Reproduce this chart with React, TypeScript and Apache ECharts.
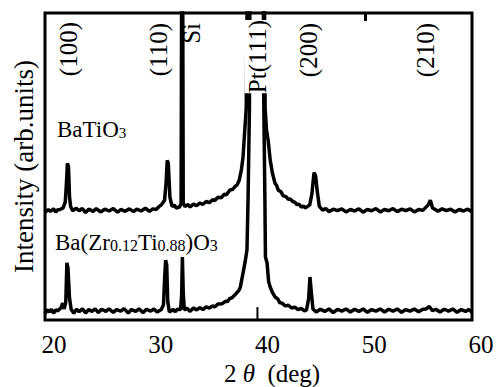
import React, { useEffect, useRef } from "react";
import * as echarts from "echarts";

// 2θ (deg) vs intensity (arb. units)
const batio3Points: [number, number][] = [
  [20.0, 35.0], [20.3, 36.0], [20.5, 35.4], [20.8, 36.2], [21.0, 35.2], [21.2, 35.9],
  [21.4, 36.0], [21.7, 36.5], [21.9, 38.5],
  [22.0, 44.0], [22.1, 51.0], [22.2, 50.0], [22.3, 40.0], [22.4, 37.0], [22.6, 35.5],
  [22.9, 36.4], [23.2, 35.6], [23.5, 36.3], [23.8, 35.0], [24.1, 36.1], [24.5, 35.4],
  [24.8, 36.3], [25.2, 35.2], [25.6, 36.1], [26.0, 35.5], [26.4, 36.3], [26.8, 35.1],
  [27.1, 36.0], [27.5, 35.4], [27.9, 36.2], [28.3, 35.3], [28.6, 36.1], [29.0, 35.5],
  [29.4, 36.4], [29.8, 35.4], [30.1, 36.2], [30.4, 36.0], [30.7, 37.0], [30.9, 37.5],
  [31.2, 39.0], [31.35, 45.0], [31.45, 52.0], [31.55, 51.0], [31.7, 40.0], [31.9, 37.0],
  [32.1, 37.4], [32.3, 36.5], [32.6, 36.8], [32.75, 38.0], [32.8, 110], [32.9, 110], [32.95, 38.0],
  [33.1, 37.0], [33.4, 37.6], [33.6, 36.8], [33.9, 37.8], [34.2, 37.2], [34.5, 38.1],
  [34.8, 37.7], [35.1, 38.6], [35.4, 38.2], [35.7, 39.2], [35.9, 38.9],
  [36.2, 40.0], [36.5, 39.8], [36.8, 41.0], [37.0, 40.8], [37.3, 42.3], [37.6, 42.6],
  [37.8, 43.5], [38.0, 44.0], [38.2, 45.6], [38.4, 49.0],
  [38.55, 53.0], [38.7, 61.0], [38.85, 69.0], [38.95, 110], [40.55, 110], [40.62, 69.0],
  [40.75, 62.0], [40.9, 58.6], [41.1, 52.0], [41.3, 47.9], [41.55, 44.5], [41.7, 43.8],
  [41.85, 42.3], [42.1, 41.8], [42.3, 40.5], [42.6, 40.1], [42.8, 39.3], [43.0, 39.4],
  [43.2, 38.6], [43.4, 38.4], [43.6, 37.6], [43.8, 37.7], [44.0, 36.8], [44.2, 37.1],
  [44.4, 36.5], [44.6, 37.0],
  [44.8, 37.5], [45.0, 41.0], [45.2, 48.0], [45.35, 47.0], [45.5, 42.0], [45.7, 37.0],
  [46.0, 35.8], [46.3, 36.3], [46.6, 35.3], [47.0, 36.1], [47.4, 35.6], [47.8, 36.2],
  [48.2, 35.2], [48.6, 36.0], [49.0, 35.5], [49.4, 36.2], [49.8, 35.1], [50.2, 36.0],
  [50.6, 35.6], [51.0, 36.3], [51.4, 35.2], [51.8, 36.0], [52.2, 35.6], [52.6, 36.3],
  [53.0, 35.3], [53.4, 36.1], [53.8, 35.6], [54.2, 36.2], [54.6, 35.2], [55.0, 36.0],
  [55.4, 35.7], [55.9, 37.5], [56.1, 39.0], [56.3, 36.5], [56.6, 35.9], [56.8, 35.4],
  [57.2, 36.2], [57.6, 35.6], [58.0, 36.1], [58.4, 35.2], [58.8, 36.0], [59.2, 35.5],
  [59.6, 36.1], [60.0, 35.3],
];

const bztPoints: [number, number][] = [
  [20.0, 2.0], [20.2, 3.4], [20.4, 2.6], [20.6, 3.5], [20.8, 2.2], [21.0, 3.3],
  [21.2, 3.0], [21.5, 4.0], [21.65, 5.5],
  [21.8, 3.6], [21.95, 6.0], [22.05, 18.6], [22.15, 17.0], [22.3, 7.0], [22.45, 3.5],
  [22.7, 2.2], [22.95, 3.5], [23.2, 2.7], [23.5, 3.6], [23.8, 2.3], [24.1, 3.4],
  [24.4, 2.8], [24.7, 3.6], [25.0, 2.4], [25.3, 3.5], [25.7, 2.8], [26.0, 3.6],
  [26.4, 2.5], [26.7, 3.4], [27.1, 2.9], [27.4, 3.7], [27.8, 2.3], [28.1, 3.4],
  [28.5, 2.8], [28.8, 3.6], [29.2, 2.4], [29.5, 3.5], [29.9, 2.9], [30.2, 3.6],
  [30.5, 2.6], [30.9, 3.4], [31.1, 5.0], [31.2, 13.0], [31.3, 19.5], [31.4, 18.0],
  [31.5, 6.0], [31.65, 2.6], [32.0, 3.4], [32.2, 2.7], [32.4, 3.5], [32.7, 3.4], [32.8, 8.0],
  [32.87, 20.5], [32.95, 9.0], [33.05, 3.3], [33.3, 3.8], [33.6, 2.8], [33.9, 3.9],
  [34.2, 3.3], [34.5, 4.0], [34.8, 3.4], [35.1, 4.3], [35.4, 3.9], [35.7, 4.6],
  [35.9, 4.2], [36.2, 5.2], [36.6, 5.3], [36.9, 6.1], [37.1, 6.0], [37.3, 7.0],
  [37.5, 7.2], [37.8, 8.2], [38.0, 9.0], [38.15, 9.6],
  [38.3, 10.7], [38.55, 15.3], [38.75, 19.0], [38.92, 22.8], [39.02, 39.0], [39.15, 69.0],
  [39.2, 110], [40.45, 110], [40.5, 69.0], [40.6, 39.0], [40.65, 20.5], [40.8, 18.6],
  [40.95, 12.5], [41.1, 10.7], [41.3, 9.0], [41.55, 7.5], [41.8, 6.9], [42.0, 5.6],
  [42.2, 5.5], [42.5, 4.6], [42.8, 4.8], [43.1, 3.9], [43.4, 4.2], [43.7, 3.4],
  [44.0, 3.8], [44.3, 3.0], [44.5, 3.3], [44.7, 7.0], [44.82, 14.0], [44.95, 9.0], [45.1, 3.6],
  [45.4, 2.6], [45.8, 3.5], [46.2, 2.8], [46.6, 3.6], [47.0, 2.4], [47.4, 3.5],
  [47.8, 2.9], [48.2, 3.6], [48.6, 2.6], [49.0, 3.5], [49.4, 2.8], [49.8, 3.6],
  [50.2, 2.5], [50.6, 3.4], [51.0, 2.9], [51.4, 3.6], [51.8, 2.6], [52.2, 3.5],
  [52.6, 2.9], [53.0, 3.6], [53.4, 2.5], [53.8, 3.4], [54.2, 2.9], [54.6, 3.6],
  [55.0, 2.7], [55.4, 3.5], [55.7, 3.6], [56.0, 4.4], [56.3, 3.0], [56.6, 3.5],
  [57.0, 2.6], [57.4, 3.5], [57.8, 2.9], [58.2, 3.6], [58.6, 2.5], [59.0, 3.4],
  [59.4, 2.8], [59.7, 3.4], [60.0, 2.6],
];

const ptReferenceMark: [number, number][] = [[39.9, 0], [39.9, 4.2]];

const xTickValues = [20, 30, 40, 50, 60];
const topTickValues = [50];

const peakLabels = [
  { text: "(100)", px: 68, py: 22 },
  { text: "(110)", px: 158, py: 23 },
  { text: "Si", px: 191, py: 23 },
  { text: "Pt(111)", px: 257, py: 20 },
  { text: "(200)", px: 308, py: 23 },
  { text: "(210)", px: 425, py: 23 },
];

const FONT = "'Liberation Serif', 'Times New Roman', serif";

export default function App() {
  const ref = useRef<HTMLDivElement>(null);

  useEffect(() => {
    if (!ref.current) return;
    const chart = echarts.init(ref.current, undefined, { renderer: "svg" });

    const lineStyle = { color: "#000", width: 3.5 };

    const graphics: any[] = peakLabels.map((p) => ({
      type: "text",
      x: p.px,
      y: p.py,
      rotation: Math.PI / 2,
      z: 100,
      style: {
        text: p.text,
        fontSize: 25,
        fontFamily: FONT,
        fill: "#000",
        align: "right",
        textAlign: "right",
        verticalAlign: "middle",
        textVerticalAlign: "middle",
        backgroundColor: p.text === "Pt(111)" ? "#fff" : undefined,
      },
    }));

    graphics.push({
      type: "text",
      x: 57,
      y: 129,
      z: 100,
      style: {
        text: "{n|BaTiO}{s|3}",
        fontFamily: FONT,
        fill: "#000",
        align: "left",
        textAlign: "left",
        verticalAlign: "middle",
        textVerticalAlign: "middle",
        rich: {
          n: { fontSize: 23, fontFamily: FONT, fill: "#000", verticalAlign: "bottom" },
          s: { fontSize: 15, fontFamily: FONT, fill: "#000", verticalAlign: "bottom" },
        },
      },
    });

    graphics.push({
      type: "text",
      x: 55,
      y: 242,
      z: 100,
      style: {
        text: "{n|Ba(Zr}{s|0.12}{n|Ti}{s|0.88}{n|)O}{s|3}",
        fontFamily: FONT,
        fill: "#000",
        align: "left",
        textAlign: "left",
        verticalAlign: "middle",
        textVerticalAlign: "middle",
        rich: {
          n: { fontSize: 23, fontFamily: FONT, fill: "#000", verticalAlign: "bottom" },
          s: { fontSize: 16, fontFamily: FONT, fill: "#000", verticalAlign: "bottom" },
        },
      },
    });

    graphics.push({
      type: "text",
      x: 272,
      y: 373,
      z: 100,
      style: {
        text: "{n|2 }{i|θ}{n|  (deg)}",
        fontFamily: FONT,
        fill: "#000",
        align: "center",
        textAlign: "center",
        verticalAlign: "middle",
        textVerticalAlign: "middle",
        rich: {
          n: { fontSize: 25, fontFamily: FONT, fill: "#000" },
          i: { fontSize: 25, fontFamily: FONT, fontStyle: "italic", fill: "#000" },
        },
      },
    });

    chart.setOption({
      animation: false,
      backgroundColor: "#fff",
      grid: {
        left: 45,
        right: 25,
        top: 13,
        bottom: 67,
        show: true,
        borderColor: "#000",
        borderWidth: 3,
        backgroundColor: "transparent",
      },
      xAxis: [
        {
          type: "value",
          min: 20,
          max: 60,
          interval: 10,
          axisLine: { show: false },
          axisTick: { show: false },
          splitLine: { show: false },
          axisLabel: {
            show: true,
            customValues: xTickValues,
            color: "#000",
            fontSize: 25,
            fontFamily: FONT,
            margin: 12,
            padding: [0, 0, 0, 18],
          },
        },
        {
          type: "value",
          position: "top",
          min: 20,
          max: 60,
          interval: 10,
          axisLine: { show: false },
          axisLabel: { show: false },
          splitLine: { show: false },
          axisTick: {
            show: true,
            inside: true,
            length: 8,
            customValues: topTickValues,
            lineStyle: { color: "#000", width: 3 },
          },
        },
      ],
      yAxis: {
        type: "value",
        min: 0,
        max: 100,
        axisLine: { show: false },
        axisTick: { show: false },
        axisLabel: { show: false },
        splitLine: { show: false },
        name: "Intensity (arb.units)",
        nameLocation: "middle",
        nameGap: 8,
        nameTextStyle: { color: "#000", fontSize: 27, fontFamily: FONT },
      },
      series: [
        {
          name: "BaTiO3",
          type: "line",
          data: batio3Points,
          showSymbol: false,
          clip: true,
          lineStyle,
          z: 2,
        },
        {
          name: "Ba(Zr0.12Ti0.88)O3",
          type: "line",
          data: bztPoints,
          showSymbol: false,
          clip: true,
          lineStyle,
          z: 2,
        },
        {
          name: "Pt(111) reference",
          type: "line",
          data: ptReferenceMark,
          showSymbol: false,
          clip: true,
          lineStyle: { color: "#000", width: 2 },
          z: 2,
        },
      ],
      graphic: graphics,
    });

    return () => chart.dispose();
  }, []);

  return (
    <div
      ref={ref}
      style={{ position: "fixed", left: 0, top: 0, width: 497, height: 387 }}
    />
  );
}
